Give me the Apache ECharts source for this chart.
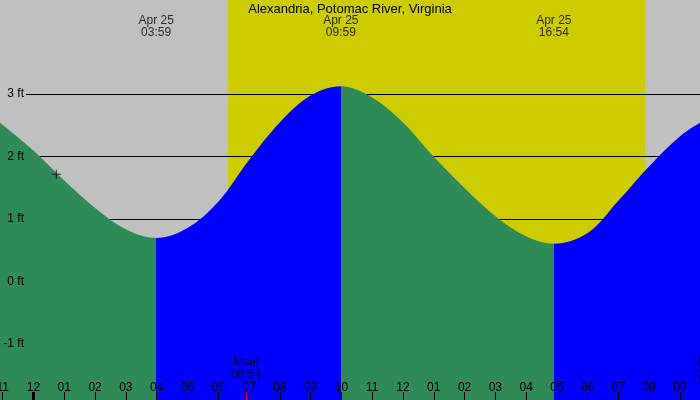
<!DOCTYPE html>
<html><head><meta charset="utf-8">
<script src="https://cdn.jsdelivr.net/npm/echarts@6/dist/echarts.min.js"></script>
<style>html,body{margin:0;padding:0;background:#c0c0c0}#c{width:700px;height:400px}</style>
</head><body><div id="c"></div>
<script>
const chartTitle = 'Alexandria, Potomac River, Virginia';
const tideHours = [-1.1, 0, 1, 2, 3, 3.983, 5, 6, 7, 8, 9, 9.983, 11, 12, 13, 14, 15, 16, 16.9, 18, 19, 20, 21, 21.7];
const tideFeet  = [2.55, 2.10, 1.62, 1.18, 0.84, 0.70, 0.86, 1.28, 1.95, 2.55, 2.98, 3.13, 2.95, 2.55, 2.00, 1.50, 1.05, 0.73, 0.61, 0.78, 1.30, 1.85, 2.33, 2.56];
const extremeHours = [3.983, 9.983, 16.9];
const extremeDates = ['Apr 25', 'Apr 25', 'Apr 25'];
const extremeTimes = ['03:59', '09:59', '16:54'];
const extremeTypes = ['low', 'high', 'low'];
const sunHours = [6.317, 19.867];
const moonHours = [6.9, 22.04];
const moonLabels = ['Mset', 'Mrise'];
const moonTimes = ['06:54', '22:02'];
const nowPoint = [0.74, 1.72];
const hourTicks = [-1, 0, 1, 2, 3, 4, 5, 6, 7, 8, 9, 10, 11, 12, 13, 14, 15, 16, 17, 18, 19, 20, 21];
const hourLabels = ['11', '12', '01', '02', '03', '04', '05', '06', '07', '08', '09', '10', '11', '12', '01', '02', '03', '04', '05', '06', '07', '08', '09'];
const midnightTicks = [0];
const feetTicks = [-1, 0, 1, 2, 3];

const GREY = '#c0c0c0', DAY = '#cccc00', FALL = '#2e8b57', RISE = '#0000ff';
const FONT = 'Liberation Sans, Arial, sans-serif';
const xMin = -1.088, xMax = 21.647, yMin = -1.891, yMax = 4.509;

const bounds = [-Infinity].concat(extremeHours, [Infinity]);
const pieces = [];
for (let i = 0; i < bounds.length - 1; i++) {
  const nextType = i < extremeTypes.length ? extremeTypes[i] : (extremeTypes[extremeTypes.length - 1] === 'low' ? 'high' : 'low');
  const p = { color: nextType === 'low' ? FALL : RISE };
  if (isFinite(bounds[i])) p.gte = bounds[i];
  if (isFinite(bounds[i + 1])) p.lt = bounds[i + 1];
  pieces.push(p);
}

const chart = echarts.init(document.getElementById('c'), null, { renderer: 'canvas' });
chart.setOption({
  animation: false,
  backgroundColor: GREY,
  textStyle: { fontFamily: FONT },
  title: { text: chartTitle, left: 'center', top: -2, textStyle: { fontSize: 13, fontWeight: 'normal', color: '#000', fontFamily: FONT } },
  grid: [
    { left: 0, right: 0, top: 0, bottom: 0, containLabel: false, outerBoundsMode: 'none' },
    { left: 26, right: 0, top: 94, bottom: 56, containLabel: false, outerBoundsMode: 'none' }
  ],
  visualMap: { show: false, type: 'piecewise', seriesIndex: 1, dimension: 0, pieces: pieces },
  xAxis: [
    { type: 'value', gridIndex: 0, min: xMin, max: xMax, position: 'bottom', z: 10,
      axisLine: { show: false, onZero: false }, splitLine: { show: false },
      axisTick: { show: true, inside: true, length: 8, customValues: hourTicks, lineStyle: { color: '#000', width: 1 } },
      axisLabel: { show: true, inside: true, margin: 6, customValues: hourTicks, fontSize: 12, color: '#000', fontFamily: FONT,
        formatter: v => hourLabels[hourTicks.indexOf(Math.round(v))] } },
    { type: 'value', gridIndex: 0, min: xMin, max: xMax, position: 'bottom', offset: 0, z: 11,
      axisLine: { show: false, onZero: false }, splitLine: { show: false }, axisLabel: { show: false },
      axisTick: { show: true, inside: true, length: 8, customValues: midnightTicks, lineStyle: { color: '#000', width: 3 } } },
    { type: 'value', gridIndex: 0, min: xMin, max: xMax, position: 'bottom', offset: 0, z: 12,
      axisLine: { show: false, onZero: false }, splitLine: { show: false }, axisLabel: { show: false },
      axisTick: { show: true, inside: true, length: 8, customValues: moonHours, lineStyle: { color: '#ff0000', width: 1 } } },
    { type: 'value', gridIndex: 1, min: 0, max: 1, show: false, axisLine: { onZero: false } }
  ],
  yAxis: [
    { type: 'value', gridIndex: 0, min: yMin, max: yMax, show: false, axisLine: { onZero: false } },
    { type: 'value', gridIndex: 1, position: 'left', offset: 0, min: feetTicks[0], max: feetTicks[feetTicks.length - 1], interval: 1, z: 1,
      axisLine: { show: false, onZero: false }, axisTick: { show: false }, axisLabel: { show: false },
      splitLine: { show: true, lineStyle: { color: '#000', width: 1 } } },
    { type: 'value', gridIndex: 1, position: 'left', offset: 0, min: feetTicks[0], max: feetTicks[feetTicks.length - 1], interval: 1, z: 10,
      axisLine: { show: false, onZero: false }, axisTick: { show: false }, splitLine: { show: false },
      axisLabel: { show: true, margin: 2, fontSize: 12, color: '#000', fontFamily: FONT, formatter: '{value} ft' } }
  ],
  series: [
    { type: 'line', xAxisIndex: 0, yAxisIndex: 0, z: 0, silent: true, symbol: 'none',
      data: sunHours.map(h => [h, yMax]),
      lineStyle: { width: 0 }, areaStyle: { color: DAY, opacity: 1, origin: 'start' } },
    { type: 'line', xAxisIndex: 0, yAxisIndex: 0, z: 3, silent: true, symbol: 'none', smooth: 0.35,
      data: tideHours.map((h, i) => [h, tideFeet[i]]),
      lineStyle: { width: 0 }, areaStyle: { opacity: 1, origin: 'start' } },
    { type: 'scatter', xAxisIndex: 0, yAxisIndex: 0, z: 6, silent: true, clip: false, symbolSize: 1,
      itemStyle: { color: 'rgba(0,0,0,0)' },
      data: extremeHours.map(h => [h, yMax]),
      label: { show: true, position: 'inside', offset: [0, 27], fontSize: 12, lineHeight: 12, color: '#000', fontFamily: FONT,
        formatter: p => extremeDates[p.dataIndex] + '\n' + extremeTimes[p.dataIndex] } },
    { type: 'scatter', xAxisIndex: 0, yAxisIndex: 0, z: 6, silent: true, clip: false, symbolSize: 1,
      itemStyle: { color: 'rgba(0,0,0,0)' },
      data: moonHours.map(h => [h, yMin]),
      label: { show: true, position: 'inside', offset: [0, -31], fontSize: 12, lineHeight: 12, color: '#000', fontFamily: FONT,
        formatter: p => moonLabels[p.dataIndex] + '\n' + moonTimes[p.dataIndex] } },
    { type: 'scatter', xAxisIndex: 0, yAxisIndex: 0, z: 7, silent: true,
      symbol: 'path://M4,0h1v9h-1z M0,4h9v1h-9z', symbolSize: 9, itemStyle: { color: '#000' },
      data: [nowPoint] }
  ]
});
</script></body></html>
